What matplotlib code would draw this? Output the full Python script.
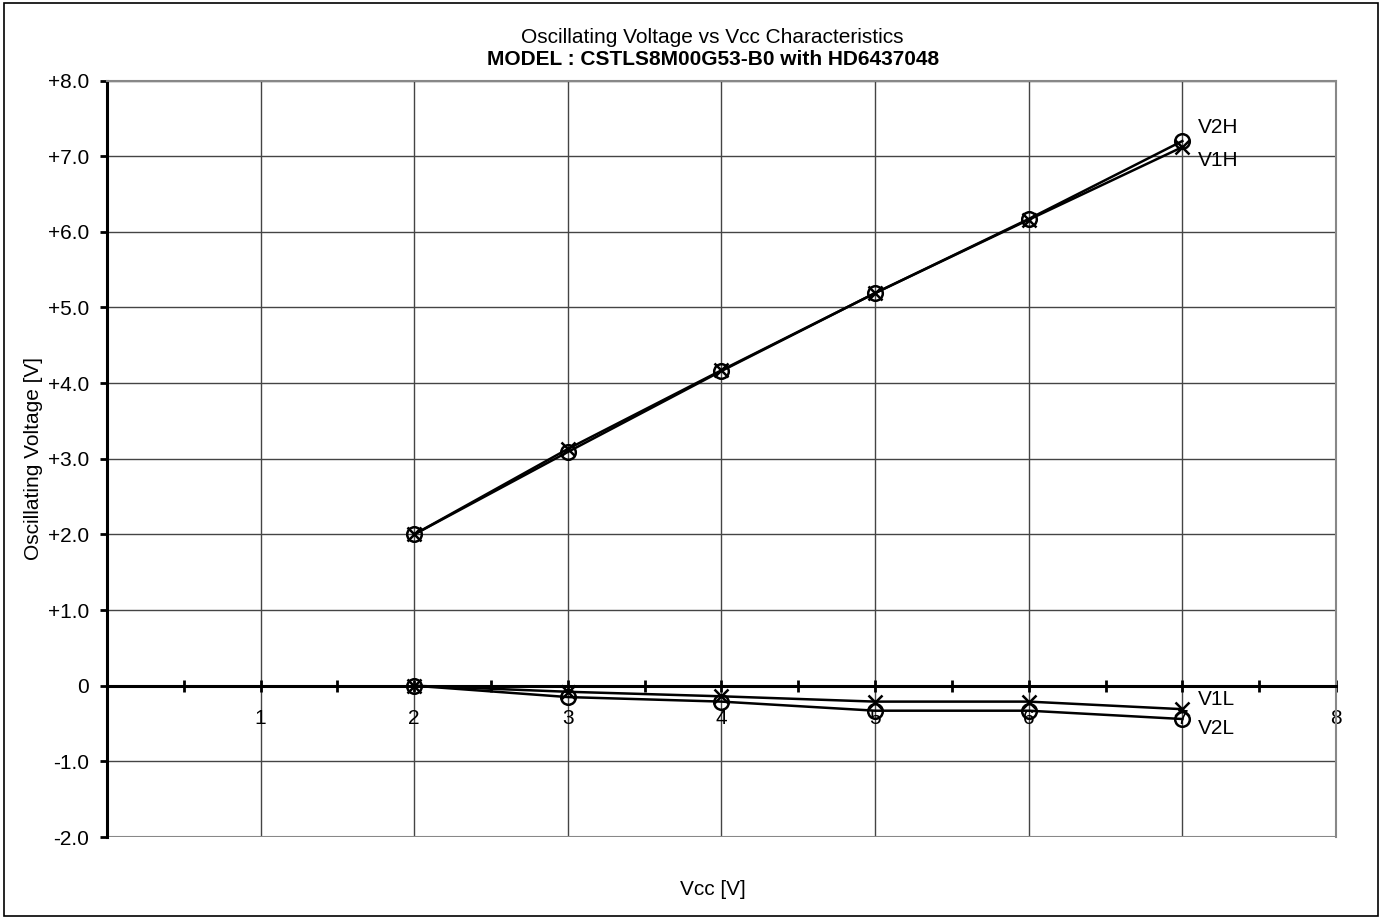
import numpy as np
import matplotlib.pyplot as plt
from matplotlib.patches import Rectangle
from matplotlib.ticker import MultipleLocator

plt.rcParams['font.family'] = ['Liberation Sans', 'DejaVu Sans']

# data
vcc = [2, 3, 4, 5, 6, 7]
v1h = [2.00, 3.13, 4.17, 5.19, 6.16, 7.12]
v2h = [2.00, 3.09, 4.16, 5.19, 6.17, 7.20]
v1l = [0.00, -0.08, -0.14, -0.21, -0.21, -0.31]
v2l = [0.00, -0.15, -0.21, -0.33, -0.33, -0.44]

y_ticks = [-2, -1, 0, 1, 2, 3, 4, 5, 6, 7, 8]
y_labels = ['-2.0', '-1.0', '0', '+1.0', '+2.0', '+3.0', '+4.0',
            '+5.0', '+6.0', '+7.0', '+8.0']
x_ticks = [1, 2, 3, 4, 5, 6, 7, 8]

FS = 15

fig = plt.figure(figsize=(13.82, 9.19), dpi=100)
ax = fig.add_axes([0.0774, 0.0892, 0.8893, 0.8232])

# frame around the whole figure
fig.patches.append(Rectangle((0.003, 0.003), 0.994, 0.994, transform=fig.transFigure,
                             fill=False, edgecolor='black', linewidth=1.2))

ax.set_xlim(0, 8)
ax.set_ylim(-2, 8)

ax.grid(True, color='#444444', linewidth=1.0)
ax.set_axisbelow(True)

for s in ['top', 'right']:
    ax.spines[s].set_color('#888888')
    ax.spines[s].set_linewidth(1.5)
ax.spines['left'].set_linewidth(2.2)
ax.spines['left'].set_color('black')
ax.spines['bottom'].set_position(('data', 0))
ax.spines['bottom'].set_linewidth(2.2)
ax.spines['bottom'].set_zorder(3)
ax.axhline(-2, color='#888888', linewidth=1.5, zorder=2)

ax.set_yticks(y_ticks)
ax.set_yticklabels(y_labels, fontsize=FS)
ax.tick_params(axis='y', direction='out', length=5, width=2, pad=8)

ax.set_xticks(x_ticks)
ax.set_xticklabels([str(t) for t in x_ticks], fontsize=FS)
ax.xaxis.set_minor_locator(MultipleLocator(0.5))
ax.tick_params(axis='x', which='both', direction='inout', length=9, width=2, pad=12.5)

style = dict(color='black', linewidth=1.8, markersize=10.5, markeredgewidth=1.8,
             markerfacecolor='none', zorder=5, clip_on=False)
ax.plot(vcc, v1h, marker='x', **style)
ax.plot(vcc, v2h, marker='o', **style)
ax.plot(vcc, v1l, marker='x', **style)
ax.plot(vcc, v2l, marker='o', **style)

labels = [('V2H', v2h, 10), ('V1H', v1h, -10), ('V1L', v1l, 7), ('V2L', v2l, -7)]
for name, ys, dy in labels:
    ax.annotate(name, (vcc[-1], ys[-1]), xytext=(11, dy), textcoords='offset points',
                fontsize=FS, va='center', ha='left')

ax.set_ylabel('Oscillating Voltage [V]', fontsize=FS, labelpad=3)
fig.text(0.5157, 0.032, 'Vcc [V]', fontsize=FS, ha='center', va='center')
fig.text(0.5157, 0.9587, 'Oscillating Voltage vs Vcc Characteristics', fontsize=FS,
         ha='center', va='center')
fig.text(0.5157, 0.9350, 'MODEL : CSTLS8M00G53-B0 with HD6437048', fontsize=FS,
         fontweight='bold', ha='center', va='center')

fig.savefig('out.png', dpi=100)
